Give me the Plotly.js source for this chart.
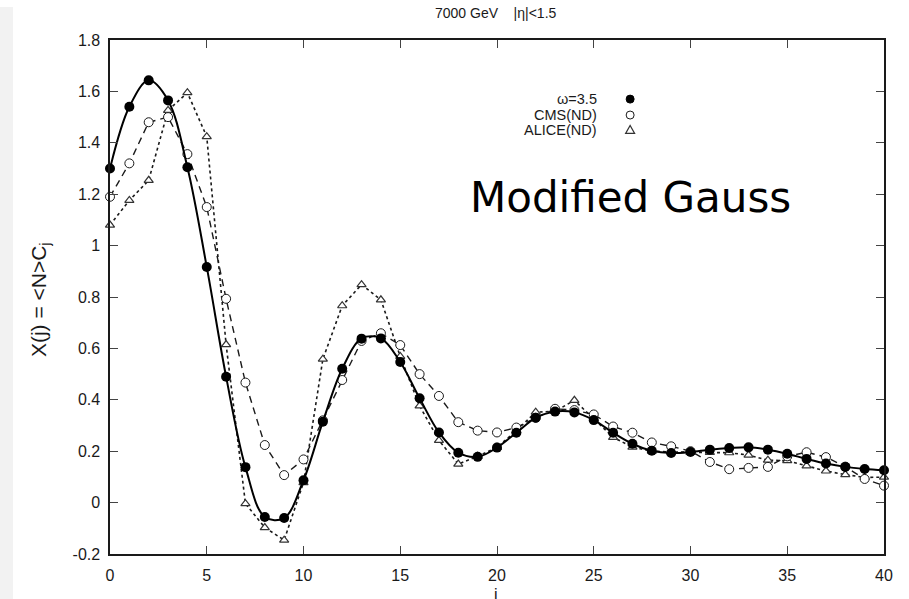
<!DOCTYPE html>
<html>
<head>
<meta charset="utf-8">
<script src="https://cdn.plot.ly/plotly-3.0.1.min.js"></script>
<style>
  html, body { margin: 0; padding: 0; background: #ffffff; }
  #strip { position: absolute; left: 0; top: 7px; width: 13px; height: 592px; background: #f2f2f2; z-index: 5; }
  #chart { width: 909px; height: 599px; }
</style>
</head>
<body>
<div id="strip"></div>
<div id="chart"></div>
<script>
// ---- data ----
const jValues = [0,1,2,3,4,5,6,7,8,9,10,11,12,13,14,15,16,17,18,19,20,21,22,23,24,25,26,27,28,29,30,31,32,33,34,35,36,37,38,39,40];

const omega35 = [1.30, 1.54, 1.643, 1.565, 1.305, 0.917, 0.49, 0.138, -0.056, -0.06, 0.087, 0.315, 0.521, 0.638, 0.639, 0.547, 0.406, 0.273, 0.194, 0.178, 0.214, 0.272, 0.33, 0.354, 0.351, 0.321, 0.272, 0.229, 0.202, 0.193, 0.197, 0.206, 0.212, 0.215, 0.206, 0.19, 0.17, 0.152, 0.139, 0.131, 0.126];

const cmsND = [1.19, 1.32, 1.48, 1.50, 1.356, 1.15, 0.793, 0.467, 0.224, 0.107, 0.168, 0.32, 0.477, 0.629, 0.659, 0.613, 0.50, 0.415, 0.313, 0.28, 0.273, 0.292, 0.33, 0.365, 0.36, 0.343, 0.296, 0.272, 0.234, 0.219, 0.2, 0.158, 0.13, 0.135, 0.139, 0.18, 0.196, 0.177, 0.14, 0.092, 0.066];

const aliceND = [1.08, 1.176, 1.254, 1.526, 1.595, 1.424, 0.615, -0.004, -0.097, -0.146, 0.078, 0.558, 0.766, 0.848, 0.789, 0.569, 0.376, 0.242, 0.15, 0.18, 0.215, 0.28, 0.352, 0.355, 0.398, 0.325, 0.254, 0.216, 0.2, 0.197, 0.195, 0.195, 0.194, 0.185, 0.165, 0.163, 0.143, 0.123, 0.109, 0.098, 0.099];

const seriesNames = ["\u03c9=3.5", "CMS(ND)", "ALICE(ND)"];
const xTickVals = [0,5,10,15,20,25,30,35,40];
const xTickText = ["0","5","10","15","20","25","30","35","40"];
const yTickVals = [-0.2,0,0.2,0.4,0.6,0.8,1,1.2,1.4,1.6,1.8];
const yTickText = ["-0.2","0","0.2","0.4","0.6","0.8","1","1.2","1.4","1.6","1.8"];

const FONT = "Liberation Sans, Arial, Helvetica, sans-serif";
const INK = "#1a1a1a";

const traces = [
  {
    x: jValues, y: aliceND, name: seriesNames[2], type: "scatter", mode: "lines+markers",
    line: {color: INK, width: 1.6, dash: "dot"},
    marker: {symbol: "triangle-up", size: 8, color: "#ffffff", line: {color: "#333333", width: 1.2}},
    cliponaxis: false, showlegend: false
  },
  {
    x: jValues, y: cmsND, name: seriesNames[1], type: "scatter", mode: "lines+markers",
    line: {color: INK, width: 1.4, dash: "7px,5px"},
    marker: {symbol: "circle", size: 9, color: "#ffffff", line: {color: INK, width: 1}},
    cliponaxis: false, showlegend: false
  },
  {
    x: jValues, y: omega35, name: seriesNames[0], type: "scatter", mode: "lines+markers",
    line: {color: "#000000", width: 2, shape: "spline", smoothing: 1},
    marker: {symbol: "circle", size: 10, color: "#000000"},
    cliponaxis: false, showlegend: false
  }
];

const axisCommon = {
  showline: true, linecolor: INK, linewidth: 1.6, mirror: "ticks",
  ticks: "inside", ticklen: 8, tickwidth: 1, tickcolor: "#444",
  showgrid: false, zeroline: false,
  tickfont: {family: FONT, size: 16, color: INK}
};

const legX = 0.632;   // right edge of legend text (paper)
const legMX = 0.672;  // legend symbol position (paper)
const legY = [0.885, 0.854, 0.825];

const layout = {
  width: 909, height: 599,
  margin: {l: 110, r: 25, t: 40, b: 45},
  paper_bgcolor: "#ffffff", plot_bgcolor: "#ffffff",
  xaxis: Object.assign({}, axisCommon, {range: [0, 40], tickvals: xTickVals, ticktext: xTickText, ticklabelstandoff: 6}),
  yaxis: Object.assign({}, axisCommon, {range: [-0.2, 1.8], tickvals: yTickVals, ticktext: yTickText, ticklabelstandoff: 5}),
  annotations: [
    {text: "7000 GeV &nbsp;&nbsp;&nbsp;|\u03b7|&lt;1.5", xref: "paper", yref: "paper", x: 0.4987, y: 1.0525,
     xanchor: "center", yanchor: "middle", showarrow: false, font: {family: FONT, size: 14, color: INK}},
    {text: "X(j) = &lt;N&gt;C<sub>j</sub>", xref: "paper", yref: "paper", x: -0.0904, y: 0.494, textangle: -90,
     xanchor: "center", yanchor: "middle", showarrow: false, font: {family: FONT, size: 21, color: INK}},
    {text: "j", xref: "paper", yref: "paper", x: 0.4987, y: -0.0575,
     xanchor: "center", yanchor: "top", showarrow: false, font: {family: FONT, size: 16, color: INK}},
    {text: "Modified Gauss", xref: "paper", yref: "paper", x: 0.4625, y: 0.693,
     xanchor: "left", yanchor: "middle", showarrow: false, font: {family: "DejaVu Sans, sans-serif", size: 42, color: "#000000"}},
    {text: seriesNames[0], xref: "paper", yref: "paper", x: legX, y: legY[0], xanchor: "right", yanchor: "middle",
     showarrow: false, font: {family: FONT, size: 14.5, color: INK}},
    {text: seriesNames[1], xref: "paper", yref: "paper", x: legX, y: legY[1], xanchor: "right", yanchor: "middle",
     showarrow: false, font: {family: FONT, size: 14.5, color: INK}},
    {text: seriesNames[2], xref: "paper", yref: "paper", x: legX, y: legY[2], xanchor: "right", yanchor: "middle",
     showarrow: false, font: {family: FONT, size: 14.5, color: INK}}
  ],
  shapes: [
    {type: "circle", xref: "paper", yref: "paper", xsizemode: "pixel", ysizemode: "pixel",
     xanchor: legMX, yanchor: legY[0], x0: -4, x1: 4, y0: -4, y1: 4,
     fillcolor: "#000000", line: {color: "#000000", width: 1}},
    {type: "circle", xref: "paper", yref: "paper", xsizemode: "pixel", ysizemode: "pixel",
     xanchor: legMX, yanchor: legY[1], x0: -4, x1: 4, y0: -4, y1: 4,
     fillcolor: "#ffffff", line: {color: INK, width: 1}},
    {type: "path", xref: "paper", yref: "paper", xsizemode: "pixel", ysizemode: "pixel",
     xanchor: legMX, yanchor: legY[2], path: "M -4.5 -3.5 L 4.5 -3.5 L 0 4.5 Z",
     fillcolor: "#ffffff", line: {color: "#333333", width: 1.2}}
  ]
};

Plotly.newPlot("chart", traces, layout, {displayModeBar: false, staticPlot: true});
</script>
</body>
</html>
